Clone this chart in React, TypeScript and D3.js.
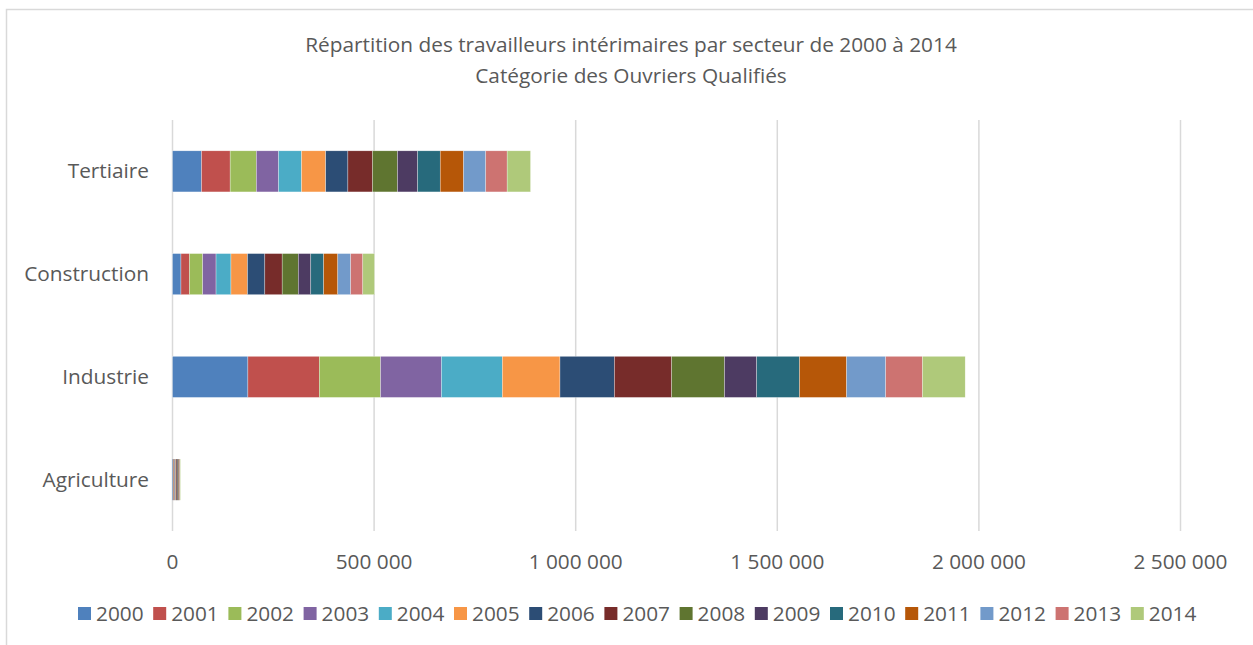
import React, { useEffect, useRef } from "react";
import * as d3 from "d3";

const WIDTH = 1253;
const HEIGHT = 645;

const categories = ["Tertiaire", "Construction", "Industrie", "Agriculture"];
const years = ["2000", "2001", "2002", "2003", "2004", "2005", "2006", "2007", "2008", "2009", "2010", "2011", "2012", "2013", "2014"];

// values per year, one array per sector
const tertiaire = [72000, 71000, 65000, 55000, 57000, 60000, 55000, 61000, 62000, 50000, 56000, 58000, 55000, 53000, 58000];
const construction = [21000, 21000, 33000, 33000, 37000, 41000, 43000, 43000, 40000, 31000, 32000, 35000, 32000, 30000, 29000];
const industrie = [187000, 177000, 152000, 151000, 151000, 143000, 135000, 142000, 131000, 80000, 106000, 117000, 97000, 91000, 106000];
const agriculture = [1600, 1500, 1400, 1400, 1300, 1300, 1300, 1400, 1200, 1100, 1200, 1200, 1200, 1100, 1200];

const colors = ["#4F81BD", "#C0504D", "#9BBB59", "#8064A2", "#4BACC6", "#F79646", "#2C4D75", "#772C2A", "#5F7530", "#4D3B62", "#276A7C", "#B65708", "#729ACA", "#CD7371", "#AFC97A"];
const ticks = [0, 500000, 1000000, 1500000, 2000000, 2500000];

const FONT = "'Open Sans', sans-serif";
const FS = 20.8;
const TEXT = "#595959";

export default function App() {
  const ref = useRef<HTMLDivElement>(null);

  useEffect(() => {
    const root = d3.select(ref.current);
    root.selectAll("*").remove();
    const svg = root.append("svg").attr("width", WIDTH).attr("height", HEIGHT).style("display", "block");

    svg.append("rect").attr("x", 6.5).attr("y", 9.5).attr("width", 1400).attr("height", 800)
      .attr("fill", "#fff").attr("stroke", "#d9d9d9").attr("stroke-width", 1.5);

    const title = svg.append("text").attr("text-anchor", "middle")
      .attr("font-family", FONT).attr("font-size", FS).attr("fill", TEXT);
    title.append("tspan").attr("x", 631).attr("y", 52).text("Répartition des travailleurs intérimaires par secteur de 2000 à 2014");
    title.append("tspan").attr("x", 631).attr("y", 83).text("Catégorie des Ouvriers Qualifiés");

    const x = d3.scaleLinear().domain([0, 2500000]).range([172.5, 1180.5]);
    const y = d3.scaleBand().domain(categories).range([120, 531]).paddingInner(0.6).paddingOuter(0.3);

    const g = svg.append("g");
    g.selectAll("line.grid").data(ticks).enter().append("line")
      .attr("x1", (d) => x(d)).attr("x2", (d) => x(d)).attr("y1", 120).attr("y2", 531)
      .attr("stroke", "#d9d9d9").attr("stroke-width", 1.5);

    g.selectAll("text.tick").data(ticks).enter().append("text")
      .attr("x", (d) => x(d)).attr("y", 569).attr("text-anchor", "middle")
      .attr("font-family", FONT).attr("font-size", FS).attr("fill", TEXT)
      .text((d) => d3.format(",")(d).replace(/,/g, " "));

    g.selectAll("text.cat").data(categories).enter().append("text")
      .attr("x", 149).attr("y", (d) => y(d)! + y.bandwidth() / 2 + 7).attr("text-anchor", "end")
      .attr("font-family", FONT).attr("font-size", FS).attr("fill", TEXT).text((d) => d);

    const rows = [tertiaire, construction, industrie, agriculture];
    // stacked segments: one bar per sector, one layer per year
    const perCat = categories.map((c, j) => {
      let acc = 0;
      return years.map((yr, i) => {
        const v = rows[j][i];
        const seg = { cat: c, year: yr, i, x0: acc, x1: acc + v };
        acc += v;
        return seg;
      });
    });

    perCat.forEach((segs) => {
      g.selectAll(null).data(segs).enter().append("rect")
        .attr("x", (d) => x(d.x0)).attr("width", (d) => x(d.x1) - x(d.x0))
        .attr("y", (d) => y(d.cat)!).attr("height", y.bandwidth())
        .attr("fill", (d) => colors[d.i])
        .attr("stroke", (d) => (x(d.x1) - x(d.x0) > 3 ? "#fff" : "none"))
        .attr("stroke-width", 0.5).attr("stroke-opacity", 0.6);
    });

    const legend = svg.append("g").selectAll("g").data(years).enter().append("g")
      .attr("transform", (d, i) => `translate(${78 + i * 75.2},0)`);
    legend.append("rect").attr("x", 0).attr("y", 607).attr("width", 13).attr("height", 13)
      .attr("fill", (d, i) => colors[i]);
    legend.append("text").attr("x", 18).attr("y", 621).attr("font-family", FONT).attr("font-size", FS)
      .attr("fill", TEXT).text((d) => d);
  }, []);

  return <div ref={ref} style={{ position: "absolute", left: 0, top: 0 }}></div>;
}
